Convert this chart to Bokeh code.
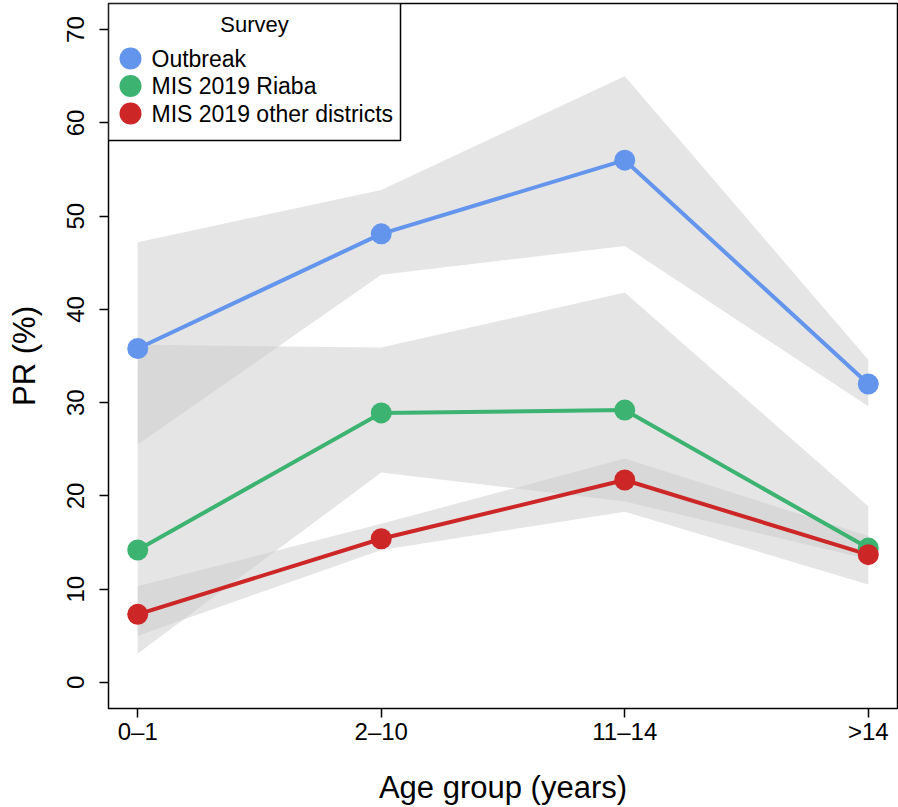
from bokeh.plotting import figure
from bokeh.models import Range1d, FixedTicker, BoxAnnotation, Label
from bokeh.embed import file_html
from bokeh.resources import INLINE

# ---- data ----
age_groups = ["0\u20131", "2\u201310", "11\u201314", ">14"]
age_pos = [1, 2, 3, 4]
series_names = ["Outbreak", "MIS 2019 Riaba", "MIS 2019 other districts"]

outbreak = [35.8, 48.1, 56.0, 32.0]
outbreak_lo = [25.5, 43.7, 46.8, 29.6]
outbreak_hi = [47.2, 52.8, 65.0, 34.6]

riaba = [14.2, 28.9, 29.2, 14.4]
riaba_lo = [3.1, 22.5, 19.4, 13.2]
riaba_hi = [36.2, 35.9, 41.8, 18.9]

other = [7.3, 15.4, 21.7, 13.7]
other_lo = [5.0, 14.2, 18.3, 10.5]
other_hi = [10.3, 17.0, 24.0, 15.7]

y_ticks = [0, 10, 20, 30, 40, 50, 60, 70]

colors = ["#6495ED", "#3CB371", "#CD2626"]
FONT = "Liberation Sans"

W, H = 898, 807
TOP, BOTTOM = 3, 99
FRAME_H = H - TOP - BOTTOM

p = figure(width=W, height=H, output_backend="svg", toolbar_location=None,
           x_range=Range1d(0.88, 4.12), y_range=Range1d(-2.8, 72.8),
           min_border_left=108, min_border_right=1,
           min_border_top=TOP, min_border_bottom=BOTTOM)
p.xgrid.visible = False
p.ygrid.visible = False
p.outline_line_color = "black"
p.outline_line_width = 1.5
p.outline_line_alpha = 1.0
p.background_fill_color = "white"
p.border_fill_color = "white"

# bands
for lo, hi in [(outbreak_lo, outbreak_hi), (riaba_lo, riaba_hi), (other_lo, other_hi)]:
    p.varea(x=age_pos, y1=lo, y2=hi, fill_color="#cccccc", fill_alpha=0.5)

# lines + points
for vals, c in zip([outbreak, riaba, other], colors):
    p.line(age_pos, vals, line_color=c, line_width=4)
for vals, c in zip([outbreak, riaba, other], colors):
    p.scatter(age_pos, vals, size=21, fill_color=c, line_color=None)

# axes
p.xaxis.ticker = FixedTicker(ticks=age_pos)
p.xaxis.major_label_overrides = {pos: lab for pos, lab in zip(age_pos, age_groups)}
p.yaxis.ticker = FixedTicker(ticks=y_ticks)
p.yaxis.major_label_orientation = "vertical"
p.xaxis.axis_label = "Age group (years)"
p.yaxis.axis_label = "PR (%)"
for ax in (p.xaxis[0], p.yaxis[0]):
    ax.axis_line_color = None
    ax.major_tick_in = 0
    ax.major_tick_out = 9
    ax.major_tick_line_color = "black"
    ax.major_tick_line_width = 1.5
    ax.minor_tick_line_color = None
    ax.major_label_text_font = FONT
    ax.major_label_text_font_size = "24px"
    ax.major_label_text_color = "black"
    ax.axis_label_text_font = FONT
    ax.axis_label_text_font_size = "31px"
    ax.axis_label_text_font_style = "normal"
    ax.axis_label_text_color = "black"
p.xaxis.major_label_standoff = 0
p.xaxis.axis_label_standoff = 22
p.yaxis.major_label_standoff = 15
p.yaxis.axis_label_standoff = 23

# manual legend (screen units relative to frame, y from bottom)
LW, LH = 292, 137
p.add_layout(BoxAnnotation(left=0, right=LW, top=FRAME_H, bottom=FRAME_H - LH,
                           left_units="screen", right_units="screen",
                           top_units="screen", bottom_units="screen",
                           fill_color="white", fill_alpha=1.0,
                           line_color="black", line_width=1.5, line_alpha=1.0))
p.add_layout(Label(x=LW / 2, y=FRAME_H - 21, x_units="screen", y_units="screen",
                   text="Survey", text_align="center", text_baseline="middle",
                   text_font=FONT, text_font_size="22px", text_color="black"))
for i, (name, c) in enumerate(zip(series_names, colors)):
    yc = FRAME_H - 55 - i * 27.5
    p.add_layout(BoxAnnotation(left=11, right=33, top=yc + 11, bottom=yc - 11,
                               left_units="screen", right_units="screen",
                               top_units="screen", bottom_units="screen",
                               border_radius=11, fill_color=c, fill_alpha=1.0,
                               line_color=None))
    p.add_layout(Label(x=43, y=yc, x_units="screen", y_units="screen",
                       text=name, text_align="left", text_baseline="middle",
                       text_font=FONT, text_font_size="23px", text_color="black"))

open("out.html", "w").write(file_html(p, INLINE))
